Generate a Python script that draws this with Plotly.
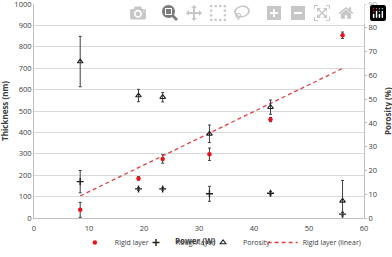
import plotly.graph_objects as go

power = [8.4, 19.0, 23.4, 31.9, 43.0, 56.1]
rigid = [38, 185, 276, 298, 460, 854]
rigid_err = [35, 8, 20, 29, 10, 15]
rough = [170, 136, 136, 113, 116, 18]
rough_err = [52, 6, 6, 35, 8, 8]
porosity = [65.8, 51.5, 50.8, 35.4, 46.6, 7.2]
porosity_err = [10.6, 2.6, 2.0, 3.7, 3.0, 8.6]
trend_x = [8.4, 56.1]
trend_y = [103, 699]

FONT = "Open Sans"
TXT = "#404040"

fig = go.Figure()
eb = dict(type="data", thickness=1, width=1.5, color="#404040")
fig.add_trace(go.Scatter(
    x=power, y=rigid, mode="markers", name="Rigid layer", legend="legend",
    marker=dict(symbol="circle", size=4.5, color="#e8141c", line=dict(width=0)),
    error_y=dict(array=rigid_err, **eb)))
fig.add_trace(go.Scatter(
    x=power, y=rough, mode="markers", name="Rough layer", legend="legend2",
    marker=dict(symbol="cross-thin", size=5, line=dict(width=1.4, color="#222222"), color="#222222"),
    error_y=dict(array=rough_err, **eb)))
fig.add_trace(go.Scatter(
    x=power, y=porosity, mode="markers", name="Porosity", yaxis="y2", legend="legend3",
    marker=dict(symbol="triangle-up-open", size=5, color="#222222", line=dict(width=1.1)),
    error_y=dict(array=porosity_err, **eb)))
fig.add_trace(go.Scatter(
    x=trend_x, y=trend_y, mode="lines", name="Rigid layer (linear)", legend="legend4",
    line=dict(color="#e0404a", width=1.3, dash="4px,3px")))

def leg(x):
    return dict(orientation="h", xref="container", yref="container", x=x, y=-0.03,
                xanchor="left", yanchor="bottom",
                font=dict(size=7, color=TXT), itemwidth=30, bgcolor="rgba(0,0,0,0)")

title_font = dict(family=FONT, size=8, color=TXT)

fig.update_layout(
    width=392, height=257,
    margin=dict(l=34, r=28, t=4, b=39, autoexpand=False),
    paper_bgcolor="white", plot_bgcolor="white",
    font=dict(family=FONT, size=8, color=TXT),
    xaxis=dict(range=[0, 60], dtick=10, showgrid=False, showline=True, linecolor="#bfbfbf",
               linewidth=1, zeroline=False, ticks="", automargin=False,
               ticklabelstandoff=3,
               ticklabeloverflow="allow", tickfont=dict(size=7.5, color=TXT)),
    yaxis=dict(range=[0, 1000], tickvals=list(range(0, 1001, 100)), showgrid=True,
               gridcolor="#d9d9d9", gridwidth=1, automargin=False, ticklabeloverflow="allow",
               showline=True, linecolor="#bfbfbf", zeroline=False, ticks="",
               tickfont=dict(size=7.5, color=TXT)),
    yaxis2=dict(range=[0, 90], tickvals=list(range(0, 91, 10)), overlaying="y", side="right",
                showgrid=False, automargin=False, ticklabeloverflow="allow",
                showline=True, linecolor="#bfbfbf", zeroline=False, ticks="outside", ticklen=2,
                tickcolor="#bfbfbf", tickfont=dict(size=7.5, color=TXT)),
    legend=leg(0.191), legend2=leg(0.347), legend3=leg(0.518), legend4=leg(0.67),
    showlegend=True,
    annotations=[
        dict(text="<b>Power (W)</b>", xref="paper", yref="paper", x=0.488, y=0,
             xanchor="center", yanchor="middle", yshift=-22, showarrow=False, font=title_font),
        dict(text="<b>Thickness (nm)</b>", xref="paper", yref="paper", x=0, y=0.5,
             xanchor="center", yanchor="middle", xshift=-30, textangle=-90,
             showarrow=False, font=title_font),
        dict(text="<b>Porosity (%)</b>", xref="paper", yref="paper", x=1, y=0.5,
             xanchor="center", yanchor="middle", xshift=23, textangle=-90,
             showarrow=False, font=title_font),
    ],
)

fig.write_html("out.html", post_script="document.body.style.margin='0px';")
